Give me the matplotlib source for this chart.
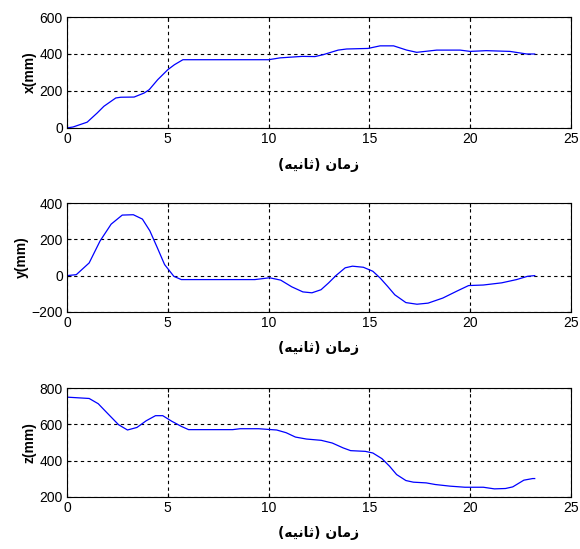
import matplotlib
matplotlib.use("Agg")
import matplotlib.pyplot as plt

# readings taken off the reference curves (time in s, position in mm)
t_x = [0, 0.3, 1.0, 1.5, 1.83, 2.42, 2.67, 3.33, 3.83, 4.08, 4.5, 5.0, 5.33, 5.75,
       10.0, 10.57, 11.67, 12.3, 12.7, 13.45, 13.87, 14.93, 15.53, 16.2, 16.85,
       17.35, 18.34, 19.5, 20.0, 20.8, 21.97, 22.8, 23.2]
x_mm = [0, 5, 31, 81, 117, 162, 166, 167, 189, 207, 261, 315, 342, 369,
        369, 379, 387, 386, 396, 421, 427, 430, 444, 444, 421,
        409, 421, 421, 414, 418, 414, 400, 400]

t_y = [0, 0.46, 1.1, 1.64, 2.19, 2.74, 3.29, 3.74, 4.11, 4.48, 4.84, 5.3, 5.67,
       6.76, 9.32, 10.05, 10.6, 11.15, 11.7, 12.15, 12.6, 12.97, 13.34, 13.8,
       14.16, 14.7, 15.17, 15.53, 15.9, 16.26, 16.81, 17.36, 17.91, 18.64, 19.37,
       19.92, 20.65, 21.56, 22.3, 22.84, 23.2]
y_mm = [0, 5, 70, 191, 284, 334, 336, 312, 247, 154, 61, -4, -22,
        -22, -22, -12, -25, -62, -90, -95, -78, -41, 0, 43,
        52, 46, 24, -13, -59, -106, -149, -158, -152, -124, -84,
        -55, -52, -40, -22, -4, 0]

t_z = [0.05, 1.1, 1.55, 2.0, 2.56, 3.0, 3.47, 3.93, 4.39, 4.75, 5.2, 5.67, 6.03,
       8.22, 8.59, 9.5, 10.4, 10.87, 11.33, 11.88, 12.61, 13.16, 13.7, 14.07,
       14.8, 15.17, 15.62, 16.0, 16.35, 16.81, 17.18, 17.82, 18.27, 19.0, 19.74,
       20.65, 21.2, 21.75, 22.11, 22.66, 23.1, 23.2]
z_mm = [750, 743, 714, 662, 598, 569, 583, 620, 648, 648, 617, 589, 571,
        571, 576, 576, 569, 554, 530, 519, 512, 497, 470, 455,
        451, 442, 411, 369, 323, 290, 281, 277, 268, 259, 253,
        253, 244, 246, 255, 292, 301, 301]

x_ticks = [0, 5, 10, 15, 20, 25]
ylims = [(0, 600), (-200, 400), (200, 800)]
yticks = [[0, 200, 400, 600], [-200, 0, 200, 400], [200, 400, 600, 800]]
ylabels = ["x(mm)", "y(mm)", "z(mm)"]
# "زمان (ثانیه)" written with presentation forms in visual order
time_label = "(\uFEEA\uFEF4\uFEE7\uFE8E\uFE9B) \uFEE5\uFE8E\uFEE3\uFEAF"

plt.rcParams['font.family'] = ['Liberation Sans', 'DejaVu Sans']

fig = plt.figure(figsize=(5.8, 5.49), dpi=100)
boxes = [[0.1155, 0.767, 0.869, 0.202],
         [0.1155, 0.432, 0.869, 0.198],
         [0.1155, 0.095, 0.869, 0.198]]
series = [(t_x, x_mm), (t_y, y_mm), (t_z, z_mm)]

for i in range(3):
    ax = fig.add_axes(boxes[i])
    ax.plot(series[i][0], series[i][1], color='#0000ff', lw=0.9)
    ax.set_xlim(0, 25)
    ax.set_ylim(*ylims[i])
    ax.set_xticks(x_ticks)
    ax.set_yticks(yticks[i])
    ax.grid(True, color='black', linestyle=(0, (3, 3)), lw=0.8)
    ax.tick_params(direction='in', length=3, labelsize=10, top=True, right=True,
                   pad=3)
    for s in ax.spines.values():
        s.set_linewidth(0.8)
    ax.set_ylabel(ylabels[i], fontsize=10, fontweight='bold', labelpad=2)
    ax.xaxis.set_label_coords(0.508, -0.27)
    ax.set_xlabel(time_label, fontsize=10, fontweight='bold',
                  family=['DejaVu Sans'])

plt.savefig("out.png", dpi=100)
